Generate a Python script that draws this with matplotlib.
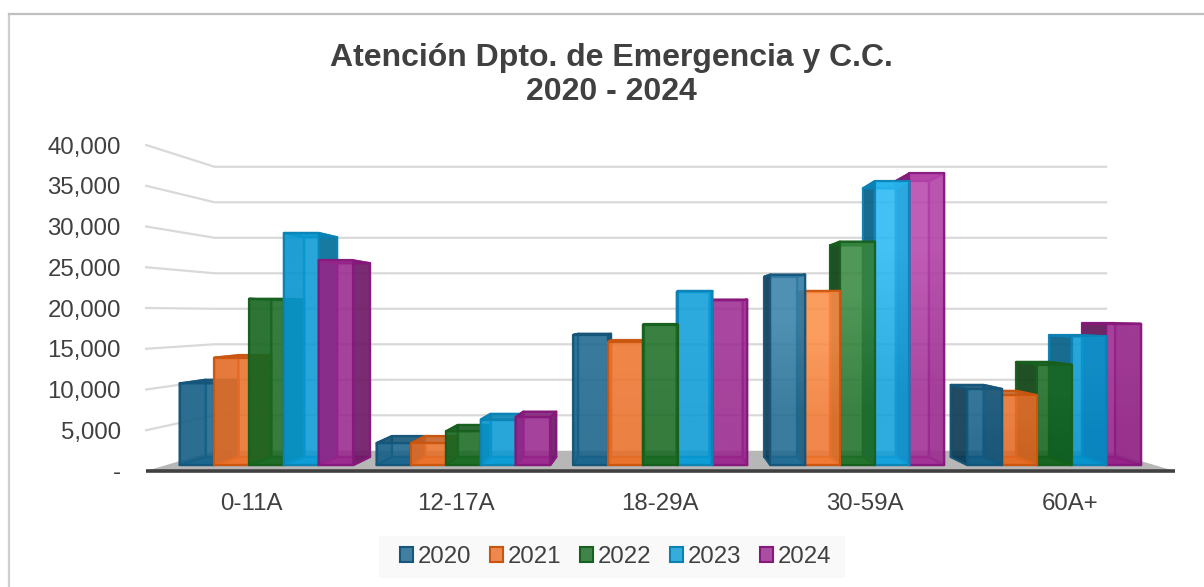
import numpy as np
import matplotlib
matplotlib.use("Agg")
import matplotlib.pyplot as plt
from matplotlib.colors import to_rgb
from matplotlib.lines import Line2D
from matplotlib.patches import Patch, Polygon, Rectangle

plt.rcParams["font.family"] = ["Liberation Sans", "DejaVu Sans"]

categories = ["0-11A", "12-17A", "18-29A", "30-59A", "60A+"]
years = ["2020", "2021", "2022", "2023", "2024"]
v2020 = [10400, 2800, 16600, 24300, 9700]
v2021 = [13700, 2800, 15700, 22200, 8900]
v2022 = [21200, 4300, 17900, 28500, 12800]
v2023 = [29600, 5800, 22200, 36200, 16400]
v2024 = [26100, 6100, 21100, 37200, 18000]
series = [v2020, v2021, v2022, v2023, v2024]
y_ticks = [0, 5000, 10000, 15000, 20000, 25000, 30000, 35000, 40000]

fills = ["#18638B", "#EB712A", "#196A22", "#099BD6", "#9A278E"]
edges = ["#15567A", "#C9550F", "#17601F", "#0C82B4", "#86197C"]
# front faces get lighter towards the top, mostly in the tall group
group_top = [0.0, 0.0, 0.02, 0.13, 0.0]
group_bottom = [0.0, 0.0, 0.0, 0.03, -0.03]
text_color = "#404040"

# fake perspective, everything shrinks towards this point in data coords
VX, VY = 2.0, 19264
S_FRONT, S_BACK, S_WALL = 0.962, 0.91, 0.871
BAR_W = 0.1765
FRONT_ALPHA = 0.82


def proj(x, v, s):
    return (VX + (x - VX) * s, VY + (v - VY) * s)


def shade(color, f=1.0, add=0.0):
    rgb = np.array(to_rgb(color)) * f + add
    return tuple(float(c) for c in np.clip(rgb, 0, 1))


def face(ax, pts, color, edge, alpha, z):
    fc = color + (alpha,) if color else "none"
    ax.add_patch(Polygon(pts, closed=True, facecolor=fc, edgecolor=edge, linewidth=1.6,
                         zorder=z, clip_on=False, joinstyle="round"))


def draw_bar(ax, x0, x1, val, fill, edge, top_add, bottom_add, z):
    f = lambda x, v: proj(x, v, S_FRONT)
    b = lambda x, v: proj(x, v, S_BACK)
    e = to_rgb(edge) + (0.9,)
    right_of_vp = (x0 + x1) / 2 > VX
    near = x1 if not right_of_vp else x0
    far = x0 if not right_of_vp else x1
    # back, floor
    face(ax, [b(x0, 0), b(x1, 0), b(x1, val), b(x0, val)], shade(fill, 0.85), e, 0.3, z)
    face(ax, [f(x0, 0), f(x1, 0), b(x1, 0), b(x0, 0)], shade(fill, 1.05, bottom_add), e, 0.8, z + 0.1)
    # hidden side, then the one that shows
    face(ax, [f(far, 0), f(far, val), b(far, val), b(far, 0)], shade(fill, 0.7), e, 0.5, z + 0.2)
    side_f = 0.62 if right_of_vp else 0.72
    face(ax, [f(near, 0), f(near, val), b(near, val), b(near, 0)], shade(fill, side_f), e, 0.9, z + 0.3)
    face(ax, [f(x0, val), f(x1, val), b(x1, val), b(x0, val)], shade(fill, 0.85), e, 0.85, z + 0.4)
    # front is a gradient image with the outline on top of it
    grad = np.array([[shade(fill, 1.0, top_add) + (FRONT_ALPHA,)],
                     [shade(fill, 1.0, bottom_add) + (FRONT_ALPHA,)]])
    l, y0 = f(x0, 0)
    r, y1 = f(x1, val)
    ax.imshow(grad, extent=(l, r, y0, y1), aspect="auto", interpolation="bilinear", zorder=z + 0.5)
    face(ax, [f(x0, 0), f(x1, 0), f(x1, val), f(x0, val)], None, e, 1, z + 0.6)


fig = plt.figure(figsize=(12.04, 5.87), dpi=100, facecolor="white")
fig.add_artist(Line2D([8.5 / 1204, 8.5 / 1204], [0, 1 - 14 / 587], color="#CFCFCF", lw=1.6))
fig.add_artist(Line2D([8.5 / 1204, 1], [1 - 14 / 587, 1 - 14 / 587], color="#BFBFBF", lw=1.6))

ax = fig.add_axes([148.6 / 1204, 116 / 587, 1023.5 / 1204, 326 / 587])
ax.set_xlim(-0.5, len(categories) - 0.5)
ax.set_ylim(0, 40000)
ax.patch.set_visible(False)
for sp in ax.spines.values():
    sp.set_visible(False)

ax.set_xticks(range(len(categories)))
ax.set_xticklabels(categories)
ax.set_yticks(y_ticks)
ax.set_yticklabels(["-" if t == 0 else f"{t:,}" for t in y_ticks])
ax.tick_params(axis="x", length=0, pad=16, labelsize=17.3, labelcolor=text_color)
ax.tick_params(axis="y", length=0, pad=20, labelsize=17.3, labelcolor=text_color)

# walls
xl, xr = ax.get_xlim()
xl_out, xr_out = xl - 0.012, xr + 0.012
for t in y_ticks[1:]:
    p0 = proj(xl_out, t, 1.0)
    p1 = proj(xl, t, S_WALL)
    p2 = proj(xr, t, S_WALL)
    ax.plot([p0[0], p1[0], p2[0]], [p0[1], p1[1], p2[1]], color="#D9D9D9", lw=1.6,
            zorder=1, clip_on=False)

floor = [proj(xl_out, 0, 1.0), proj(xr_out, 0, 1.0), proj(xr, 0, S_WALL), proj(xl, 0, S_WALL)]
ax.add_patch(Polygon(floor, closed=True, facecolor="#B7B7B7", edgecolor="none", zorder=2, clip_on=False))
ax.plot([xl_out, xr_out], [0, 0], color="#404040", lw=2.6, zorder=2.5, clip_on=False, solid_capstyle="butt")

# outer bars first so the ones nearer the middle paint over them
bars = []
for i in range(len(categories)):
    for j in range(len(years)):
        x0 = i + (j - 2.5) * BAR_W
        bars.append((abs(x0 + BAR_W / 2 - VX), x0, i, j))
bars.sort(key=lambda b: -b[0])
for k, (_, x0, i, j) in enumerate(bars):
    draw_bar(ax, x0, x0 + BAR_W, series[j][i], fills[j], edges[j], group_top[i], group_bottom[i], 3 + k)

fig.text(611.5 / 1204, 1 - 58 / 587, "Atención Dpto. de Emergencia y C.C.", ha="center", va="center",
         fontsize=23, fontweight="bold", color=text_color)
fig.text(611.5 / 1204, 1 - 92 / 587, "2020 - 2024", ha="center", va="center",
         fontsize=23, fontweight="bold", color=text_color)

fig.add_artist(Rectangle((379 / 1204, 1 - 578 / 587), 466 / 1204, 42 / 587, transform=fig.transFigure,
                         facecolor="#F9F9F9", edgecolor="none", zorder=0))
handles = [Patch(facecolor=shade(c) + (FRONT_ALPHA,), edgecolor=e, linewidth=1.5, label=y)
           for c, e, y in zip(fills, edges, years)]
leg = fig.legend(handles=handles, ncol=5, loc="center", bbox_to_anchor=(615.5 / 1204, 1 - 557 / 587),
                 frameon=False, fontsize=17.3, labelcolor=text_color, handlelength=0.55, handleheight=0.55,
                 handletextpad=0.2, columnspacing=0.77)

fig.savefig("out.png", dpi=100, facecolor="white")
